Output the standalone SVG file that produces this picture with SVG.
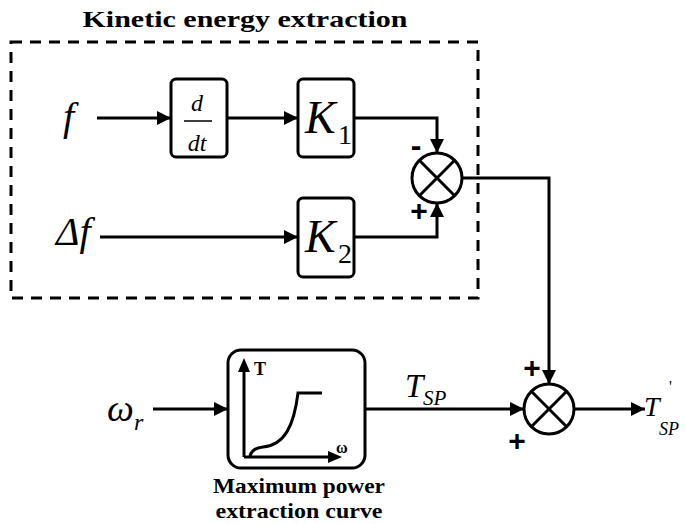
<svg xmlns="http://www.w3.org/2000/svg" width="686" height="524" viewBox="0 0 686 524">
<style>
.ln{fill:none;stroke:#000;stroke-width:3}
.bx{fill:#fff;stroke:#000;stroke-width:3}
.it{font-family:'Liberation Serif','DejaVu Serif',serif;font-style:italic;fill:#000}
.rm{font-family:'Liberation Serif','DejaVu Serif',serif;fill:#000}
.bd{font-family:'Liberation Serif','DejaVu Serif',serif;font-weight:bold;fill:#000}
.sg{font-family:'Liberation Sans','DejaVu Sans',sans-serif;font-weight:bold;fill:#000;text-anchor:middle}
</style>
<defs>
<marker id="ah" markerWidth="14" markerHeight="14" viewBox="0 0 14 14" refX="14" refY="7" orient="auto" markerUnits="userSpaceOnUse">
<path d="M0,0 L14,7 L0,14 Z" fill="#000"/>
</marker>
</defs>
<rect x="0" y="0" width="686" height="524" fill="#fff"/>
<g id="kinetic-group">
<rect x="11" y="42" width="467" height="256" fill="none" stroke="#000" stroke-width="3" stroke-dasharray="11,8"/>
<text class="bd" x="245" y="27" font-size="24" text-anchor="middle" textLength="325" lengthAdjust="spacingAndGlyphs">Kinetic energy extraction</text>
</g>
<g id="connectors">
<line class="ln" x1="97" y1="118" x2="171" y2="118" marker-end="url(#ah)"/>
<line class="ln" x1="227" y1="118" x2="298" y2="118" marker-end="url(#ah)"/>
<polyline class="ln" points="354,118 437,118 437,153" marker-end="url(#ah)"/>
<line class="ln" x1="100" y1="237" x2="298" y2="237" marker-end="url(#ah)"/>
<polyline class="ln" points="354,237 437,237 437,203" marker-end="url(#ah)"/>
<polyline class="ln" points="462,178 549,178 549,384" marker-end="url(#ah)"/>
<line class="ln" x1="153" y1="409" x2="228" y2="409" marker-end="url(#ah)"/>
<line class="ln" x1="364" y1="409" x2="524" y2="409" marker-end="url(#ah)"/>
<line class="ln" x1="573" y1="409" x2="645" y2="409" marker-end="url(#ah)"/>
</g>
<g id="input-f">
<text class="it" x="63" y="130" font-size="40">f</text>
</g>
<g id="input-df">
<text class="it" x="56" y="245" font-size="40">Δf</text>
</g>
<g id="input-wr">
<text class="it" x="107" y="421" font-size="38">ω</text>
<text class="it" x="134" y="430" font-size="24">r</text>
</g>
<g id="ddt">
<rect class="bx" x="171" y="79" width="56" height="78" rx="5"/>
<text class="it" x="197" y="111" font-size="24" text-anchor="middle">d</text>
<line x1="184" y1="121" x2="212" y2="121" stroke="#000" stroke-width="1.5"/>
<text class="it" x="197" y="151" font-size="24" text-anchor="middle">dt</text>
</g>
<g id="k1">
<rect class="bx" x="298" y="79" width="56" height="78" rx="5"/>
<text class="it" x="305" y="133" font-size="46">K</text>
<text class="rm" x="338" y="144" font-size="28">1</text>
</g>
<g id="k2">
<rect class="bx" x="298" y="198" width="56" height="79" rx="5"/>
<text class="it" x="305" y="252" font-size="46">K</text>
<text class="rm" x="338" y="263" font-size="28">2</text>
</g>
<g id="sum1">
<circle class="bx" cx="437" cy="178" r="25"/>
<line class="ln" x1="419.3" y1="160.3" x2="454.7" y2="195.7"/>
<line class="ln" x1="454.7" y1="160.3" x2="419.3" y2="195.7"/>
<text class="sg" x="416" y="156" font-size="32">-</text>
<text class="sg" x="419" y="221" font-size="30">+</text>
</g>
<g id="mpe-curve">
<rect class="bx" x="228" y="350" width="137" height="118" rx="13"/>
<line class="ln" x1="244" y1="457" x2="244" y2="370"/>
<path d="M238,372 L244,358 L250,372 Z" fill="#000"/>
<line class="ln" x1="244" y1="457" x2="330" y2="457"/>
<path d="M328,451 L342,457 L328,463 Z" fill="#000"/>
<path class="ln" d="M250,456 Q252,448 263,447 C285,445 294,425 298,393 L322,393"/>
<text class="bd" x="254" y="375" font-size="18">T</text>
<text class="bd" x="336" y="453" font-size="16">ω</text>
<text class="bd" x="299" y="493" font-size="22" text-anchor="middle" textLength="172" lengthAdjust="spacingAndGlyphs">Maximum power</text>
<text class="bd" x="299" y="518" font-size="22" text-anchor="middle" textLength="167" lengthAdjust="spacingAndGlyphs">extraction curve</text>
</g>
<g id="tsp-label">
<text class="it" x="405" y="397" font-size="33">T</text>
<text class="it" x="423" y="405" font-size="21">SP</text>
</g>
<g id="sum2">
<circle class="bx" cx="549" cy="409" r="25"/>
<line class="ln" x1="531.3" y1="391.3" x2="566.7" y2="426.7"/>
<line class="ln" x1="566.7" y1="391.3" x2="531.3" y2="426.7"/>
<text class="sg" x="532" y="378" font-size="30">+</text>
<text class="sg" x="517" y="451" font-size="30">+</text>
</g>
<g id="output-tsp">
<text class="it" x="644" y="416" font-size="28">T</text>
<text class="rm" x="669" y="392" font-size="16">'</text>
<text class="it" x="659" y="435" font-size="18">SP</text>
</g>
</svg>
